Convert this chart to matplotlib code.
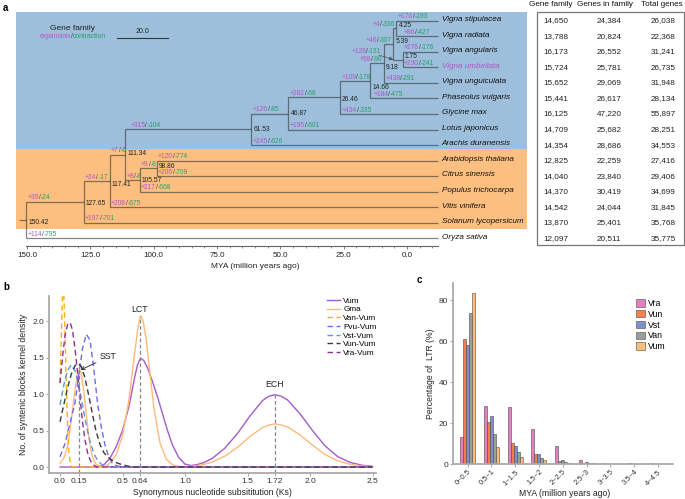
import numpy as np
import matplotlib
matplotlib.use('Agg')
import matplotlib.pyplot as plt
import matplotlib.transforms as mtransforms
from matplotlib.patches import Rectangle
from matplotlib.offsetbox import TextArea, HPacker, AnnotationBbox

plt.rcParams['font.family'] = ['Liberation Sans', 'DejaVu Sans']

# ---------------- panel a : tree + table ----------------
tips = ['Vigna stipulacea', 'Vigna radiata', 'Vigna angularis', 'Vigna umbellata',
        'Vigna unguiculata', 'Phaseolus vulgaris', 'Glycine max', 'Lotus japonicus',
        'Arachis duranensis', 'Arabidopsis thaliana', 'Citrus sinensis',
        'Populus trichocarpa', 'Vitis vinifera', 'Solanum lycopersicum', 'Oryza sativa']

node_age = {'n425': 4.25, 'n175': 1.75, 'n539': 5.39, 'n918': 9.18, 'n1466': 14.66,
            'n2646': 26.46, 'n4687': 46.87, 'n6153': 61.53, 'n9886': 98.86,
            'n10557': 105.57, 'n11134': 111.34, 'n11741': 117.41, 'n12765': 127.65,
            'n15042': 150.42}

children = {
    'n425': ['Vigna stipulacea', 'Vigna radiata'],
    'n175': ['Vigna angularis', 'Vigna umbellata'],
    'n539': ['n425', 'n175'],
    'n918': ['n539', 'Vigna unguiculata'],
    'n1466': ['n918', 'Phaseolus vulgaris'],
    'n2646': ['n1466', 'Glycine max'],
    'n4687': ['n2646', 'Lotus japonicus'],
    'n6153': ['n4687', 'Arachis duranensis'],
    'n9886': ['Arabidopsis thaliana', 'Citrus sinensis'],
    'n10557': ['n9886', 'Populus trichocarpa'],
    'n11134': ['n6153', 'n10557'],
    'n11741': ['n11134', 'Vitis vinifera'],
    'n12765': ['n11741', 'Solanum lycopersicum'],
    'n15042': ['n12765', 'Oryza sativa'],
}

# expansion / contraction on the branch leading to each node
gain_loss = {
    'Vigna stipulacea': (176, 193), 'Vigna radiata': (86, 427), 'n425': (4, 336),
    'n539': (46, 307), 'n175': (128, 131), 'Vigna angularis': (278, 176),
    'Vigna umbellata': (230, 241), 'n918': (58, 90), 'Vigna unguiculata': (438, 291),
    'n1466': (109, 178), 'Phaseolus vulgaris': (184, 475), 'Glycine max': (434, 335),
    'n2646': (282, 68), 'Lotus japonicus': (195, 601), 'n4687': (126, 85),
    'Arachis duranensis': (245, 626), 'n6153': (315, 104), 'n11134': (7, 6),
    'Arabidopsis thaliana': (120, 774), 'n9886': (9, 8), 'Citrus sinensis': (206, 709),
    'n10557': (8, 8), 'Populus trichocarpa': (217, 668), 'n11741': (24, 17),
    'Vitis vinifera': (208, 675), 'n12765': (39, 24), 'Solanum lycopersicum': (197, 701),
    'Oryza sativa': (114, 795),
}

gene_family = [14650, 13788, 16173, 15724, 15652, 15441, 16125, 14709, 14354,
               12825, 14040, 14370, 14542, 13870, 12097]
genes_in_family = [24384, 20824, 26552, 25781, 29069, 26617, 47220, 25682, 28686,
                   22259, 23840, 30419, 24044, 25401, 20511]
total_genes = [26038, 22368, 31241, 26735, 31948, 28134, 55897, 28251, 34553,
               27416, 29406, 34699, 31845, 35768, 35775]

# ---------------- panel b : Ks densities ----------------
ks_vum = [0.0, 0.30, 0.35, 0.40, 0.45, 0.50, 0.55, 0.60, 0.62, 0.645, 0.67, 0.70, 0.74,
          0.78, 0.82, 0.86, 0.90, 0.95, 1.00, 1.05, 1.10, 1.15, 1.22, 1.32, 1.42, 1.52,
          1.62, 1.67, 1.72, 1.77, 1.82, 1.92, 2.02, 2.12, 2.22, 2.32, 2.42, 2.50]
den_vum = [0.0, 0.0, 0.03, 0.12, 0.28, 0.50, 0.82, 1.25, 1.40, 1.49, 1.46, 1.36, 1.17,
           0.96, 0.73, 0.50, 0.30, 0.13, 0.04, 0.02, 0.035, 0.06, 0.12, 0.26, 0.46, 0.70,
           0.91, 0.97, 0.99, 0.97, 0.92, 0.73, 0.50, 0.29, 0.145, 0.063, 0.023, 0.01]
ks_gma = [0.0, 0.03, 0.06, 0.08, 0.10, 0.12, 0.14, 0.155, 0.17, 0.19, 0.21, 0.23, 0.25,
          0.27, 0.29, 0.32, 0.36, 0.40, 0.45, 0.50, 0.55, 0.60, 0.625, 0.645, 0.665, 0.69,
          0.72, 0.75, 0.80, 0.85, 0.90, 0.95, 1.00, 1.05, 1.10, 1.15, 1.22, 1.32, 1.42,
          1.52, 1.62, 1.67, 1.72, 1.77, 1.82, 1.92, 2.02, 2.12, 2.22, 2.32, 2.42, 2.50]
den_gma = [0.05, 0.12, 0.28, 0.50, 0.78, 1.05, 1.28, 1.34, 1.28, 1.05, 0.72, 0.42, 0.21,
           0.09, 0.035, 0.01, 0.01, 0.05, 0.17, 0.43, 0.90, 1.60, 1.92, 2.07, 2.00, 1.75,
           1.28, 0.82, 0.33, 0.11, 0.03, 0.01, 0.005, 0.01, 0.02, 0.035, 0.07, 0.15, 0.27,
           0.42, 0.54, 0.575, 0.59, 0.575, 0.55, 0.44, 0.30, 0.17, 0.086, 0.037, 0.014, 0.006]
ks_van = [0.0, 0.01, 0.02, 0.025, 0.03, 0.04, 0.05, 0.06, 0.07, 0.08, 0.09, 0.10, 0.12, 2.50]
den_van = [1.15, 1.75, 2.35, 2.50, 2.42, 1.85, 1.15, 0.58, 0.24, 0.08, 0.02, 0.005, 0.0, 0.0]
ks_pvu = [0.0, 0.04, 0.08, 0.12, 0.15, 0.18, 0.21, 0.24, 0.27, 0.30, 0.33, 0.36, 0.39,
          0.42, 0.45, 0.50, 2.50]
den_pvu = [0.14, 0.32, 0.60, 0.88, 1.26, 1.62, 1.82, 1.74, 1.35, 0.88, 0.55, 0.30, 0.14,
           0.05, 0.02, 0.0, 0.0]
ks_vst = [0.0, 0.03, 0.06, 0.09, 0.12, 0.15, 0.18, 0.21, 0.24, 0.27, 0.30, 0.33, 0.36,
          0.40, 0.45, 2.50]
den_vst = [0.85, 1.12, 1.32, 1.40, 1.32, 1.12, 0.85, 0.57, 0.35, 0.19, 0.09, 0.04, 0.016,
           0.003, 0.0, 0.0]
ks_vun = [0.0, 0.03, 0.06, 0.09, 0.12, 0.145, 0.17, 0.20, 0.23, 0.26, 0.29, 0.32, 0.35,
          0.38, 0.41, 0.45, 0.50, 0.55, 0.60, 2.50]
den_vun = [0.62, 0.85, 1.08, 1.27, 1.39, 1.42, 1.38, 1.22, 0.98, 0.72, 0.48, 0.31, 0.20,
           0.14, 0.10, 0.06, 0.03, 0.01, 0.0, 0.0]
ks_vra = [0.0, 0.02, 0.04, 0.06, 0.08, 0.10, 0.12, 0.14, 0.16, 0.18, 0.20, 0.22, 0.24,
          0.26, 0.28, 0.30, 2.50]
den_vra = [1.15, 1.50, 1.80, 1.95, 1.98, 1.88, 1.62, 1.30, 0.95, 0.62, 0.37, 0.20, 0.10,
           0.04, 0.015, 0.0, 0.0]

peak_ks = [0.15, 0.64, 1.72]
peak_top = [1.37, 2.07, 0.99]
ks_ticks = [0.0, 0.15, 0.5, 0.64, 1.0, 1.5, 1.72, 2.0, 2.5]

# ---------------- panel c : LTR insertion time ----------------
ltr_bins = ['0~0.5', '0.5~1', '1~1.5', '1.5~2', '2~2.5', '2.5~3', '3~3.5', '3.5~4', '4~4.5']
ltr_species = ['Vra', 'Vun', 'Vst', 'Van', 'Vum']
ltr_vra = [13.5, 28.6, 28.0, 17.1, 8.9, 2.3, 0.8, 0.4, 0.6]
ltr_vun = [61.1, 20.5, 10.4, 5.0, 1.6, 0.8, 0.2, 0.4, 0.3]
ltr_vst = [58.2, 23.7, 9.1, 5.0, 2.1, 1.3, 0.2, 0.3, 0.2]
ltr_van = [73.7, 14.6, 6.0, 3.1, 1.3, 0.7, 0.2, 0.3, 0.2]
ltr_vum = [83.5, 8.3, 3.6, 2.0, 0.8, 0.5, 0.1, 0.2, 0.1]

EXP_C = '#b254c8'
CON_C = '#27a066'
SLASH_C = '#444444'
PX = 0.72  # points per pixel at dpi 100

fig = plt.figure(figsize=(6.85, 4.99), dpi=100)


def gl_box(a, b, size, pre=('+', '-')):
    kw = dict(size=size)
    return HPacker(children=[
        TextArea(f'{pre[0]}{a}', textprops=dict(color=EXP_C, **kw)),
        TextArea('/', textprops=dict(color=SLASH_C, **kw)),
        TextArea(f'{pre[1]}{b}', textprops=dict(color=CON_C, **kw))],
        align='baseline', pad=0, sep=0)


# ===== panel a =====
ax = fig.add_axes([16 / 685, 1 - 246 / 499, 511 / 685, 234 / 499])
TIP_X = -12.3
ax.set_xlim(154.34, -47.4)
ax.set_ylim(14.49, -0.56)
band = mtransforms.blended_transform_factory(ax.transAxes, ax.transData)
ax.add_patch(Rectangle((0, 8.28), 1, 13.39 - 8.28, transform=band,
                       facecolor='#fdbf80', edgecolor='none', zorder=0))
ax.add_patch(Rectangle((0, -0.56), 1, 8.28 + 0.56, transform=band,
                       facecolor='#9dbfdc', edgecolor='none', zorder=0))

tip_y = {n: i for i, n in enumerate(tips)}
node_y = {}


def get_y(n):
    if n in tip_y:
        return tip_y[n]
    if n not in node_y:
        node_y[n] = np.mean([get_y(c) for c in children[n]])
    return node_y[n]


def get_x(n):
    return node_age.get(n, TIP_X)


parent = {c: p for p, cs in children.items() for c in cs}
lkw = dict(color='#333333', alpha=0.6, lw=0.9, solid_capstyle='butt')
for p, cs in children.items():
    ys = [get_y(c) for c in cs]
    ax.plot([node_age[p]] * 2, [min(ys), max(ys)], **lkw)
    for c in cs:
        ax.plot([node_age[p], get_x(c)], [get_y(c)] * 2, **lkw)
ax.plot([node_age['n15042'] + 2.6, node_age['n15042']], [get_y('n15042')] * 2, **lkw)

# species names
for n in tips:
    ax.text(TIP_X - 1.5, tip_y[n] - 0.08, n, style='italic', fontsize=5.9, va='center', ha='left',
            color=EXP_C if n == 'Vigna umbellata' else '#111111')

# node ages
node_dy = {'n1466': 6.5, 'n918': 4, 'n11741': 4, 'n175': -3, 'n2646': 2.5, 'n12765': 2,
           'n15042': 2, 'n9886': -2, 'n11134': -1.5, 'n539': -2.5, 'n425': -2.5}
for n, age in node_age.items():
    ax.text(age - 0.9, get_y(n) + node_dy.get(n, 0) / 15.55, f'{age:.2f}', fontsize=4.8,
            va='center', ha='left', color='#222222')

# branch gains / losses
right_mode = {'n425', 'n539', 'n918'}
extra_dx = {'Vigna radiata': 6, 'n6153': 4, 'Phaseolus vulgaris': 2}
for n, (g, l) in gain_loss.items():
    box = gl_box(g, l, 4.8)
    y = get_y(n)
    if n == 'n175':
        ab = AnnotationBbox(box, (node_age['n539'], y), xybox=(-12 * PX, 5 * PX),
                            xycoords='data', boxcoords='offset points', box_alignment=(1, 0),
                            frameon=False, pad=0, annotation_clip=False,
                            arrowprops=dict(arrowstyle='-|>', color='#555555', lw=0.5,
                                            mutation_scale=4, shrinkA=0, shrinkB=0))
    elif n in right_mode:
        ab = AnnotationBbox(box, (get_x(n), y), xybox=(-1 * PX, 0.3), xycoords='data',
                            boxcoords='offset points', box_alignment=(1, 0),
                            frameon=False, pad=0, annotation_clip=False)
    else:
        ab = AnnotationBbox(box, (node_age[parent[n]], y),
                            xybox=((1.5 + extra_dx.get(n, 0)) * PX, 0.3), xycoords='data',
                            boxcoords='offset points', box_alignment=(0, 0),
                            frameon=False, pad=0, annotation_clip=False)
    ax.add_artist(ab)

# scale bar and legend of gene family
ax.plot([114.5, 94.5], [1.11, 1.11], color='#333333', lw=0.8)
ax.text(104.5, 0.95, '20.0', fontsize=5, ha='center', va='bottom', color='#222222')
fig.text(73 / 685, 1 - 29 / 499, 'Gene family', fontsize=6, ha='center', va='center', color='#222222')
fig.add_artist(AnnotationBbox(gl_box('expansion', 'contraction', 4.9, pre=('', '')),
                              (73 / 685, 1 - 37 / 499), xycoords='figure fraction',
                              box_alignment=(0.5, 0.5), frameon=False, pad=0))

for s in ['top', 'right', 'left']:
    ax.spines[s].set_visible(False)
ax.spines['bottom'].set_bounds(150.4, TIP_X)
ax.spines['bottom'].set_color('#666666')
ax.spines['bottom'].set_linewidth(0.8)
ax.set_yticks([])
ax.set_xticks([150, 125, 100, 75, 50, 25, 0])
ax.set_xticklabels([f'{v:.1f}' for v in [150, 125, 100, 75, 50, 25, 0]])
ax.set_xticks(np.arange(150, -15, -5), minor=True)
ax.tick_params(axis='x', which='major', length=2.5, width=0.6, color='#666666', labelsize=5.8,
               pad=1.5, labelcolor='#222222')
ax.tick_params(axis='x', which='minor', length=1.5, width=0.5, color='#666666')
fig.text(255 / 685, 1 - 266 / 499, 'MYA (million years ago)', fontsize=6, ha='center', va='center',
         color='#222222')

# table
tbl = mtransforms.blended_transform_factory(fig.transFigure, ax.transData)
fig.add_artist(Rectangle((537 / 685, 1 - 245 / 499), 147 / 685, 233 / 499, transform=fig.transFigure,
                         facecolor='none', edgecolor='#777777', lw=0.9))
for col, vals in zip([556, 609, 663], [gene_family, genes_in_family, total_genes]):
    for i, v in enumerate(vals):
        ax.text(col / 685, i, f'{v:,}', transform=tbl, fontsize=5.9, ha='center', va='center',
                color='#222222', clip_on=False)
for col, h in zip([551, 605, 662], ['Gene family', 'Genes in family', 'Total genes']):
    fig.text(col / 685, 1 - 5 / 499, h, fontsize=5.9, ha='center', va='center', color='#111111')

# ===== panel b =====
bx = fig.add_axes([49 / 685, 26 / 499, 327 / 685, 177.5 / 499])
bx.set_xlim(-0.088, 2.528)
bx.set_ylim(-0.082, 2.35)
dash = (0, (4, 2.5))
series = [
    (ks_vum, den_vum, 'Vum', '#a65bc8', '-'),
    (ks_gma, den_gma, 'Gma', '#ffba7a', '-'),
    (ks_van, den_van, 'Van-Vum', '#ffae1a', dash),
    (ks_pvu, den_pvu, 'Pvu-Vum', '#6c6cec', dash),
    (ks_vst, den_vst, 'Vst-Vum', '#5b9bd5', dash),
    (ks_vun, den_vun, 'Vun-Vum', '#3a3a3a', dash),
    (ks_vra, den_vra, 'Vra-Vum', '#8e2e92', dash),
]
for xs, ys, lab, c, ls in series:
    bx.plot(xs, ys, color=c, ls=ls, lw=1.0, label=lab)
bx.vlines(peak_ks, -0.082, peak_top, colors='#888888', linestyles=(0, (3, 2)), lw=0.9)
bx.text(0.64, 2.16, 'LCT', fontsize=6.3, ha='center', va='center', color='#222222')
bx.text(1.72, 1.13, 'ECH', fontsize=6.3, ha='center', va='center', color='#222222')
bx.annotate('SST', xy=(0.165, 1.33), xytext=(0.32, 1.51), fontsize=6.3, ha='left', va='center',
            color='#222222', arrowprops=dict(arrowstyle='->', lw=0.6, color='#222222',
                                             shrinkA=1, shrinkB=0))
for s in ['top', 'right']:
    bx.spines[s].set_visible(False)
for s in ['left', 'bottom']:
    bx.spines[s].set_color('#aaaaaa')
    bx.spines[s].set_linewidth(1.3)
bx.set_xticks(ks_ticks)
bx.set_xticklabels([str(v) for v in ks_ticks])
bx.set_yticks([0.0, 0.5, 1.0, 1.5, 2.0])
bx.set_yticklabels(['0.0', '0.5', '1.0', '1.5', '2.0'])
bx.tick_params(length=2, width=0.8, color='#aaaaaa', labelsize=6, labelcolor='#333333', pad=1.5)
bx.set_xlabel('Synonymous nucleotide subsititution (Ks)', fontsize=6.2, color='#222222', labelpad=2)
bx.set_ylabel('No. of syntenic blocks kernel density', fontsize=6.2, color='#222222', labelpad=3)
bx.legend(loc='upper left', bbox_to_anchor=(327 / 685, 1 - 297 / 499),
          bbox_transform=fig.transFigure, frameon=False, fontsize=5.9, handlelength=1.6,
          handletextpad=0.4, labelspacing=0.12, borderpad=0, borderaxespad=0)

# ===== panel c =====
cx = fig.add_axes([453 / 685, 34.7 / 499, 220 / 685, 181 / 499])
cx.set_xlim(-0.61, 8.63)
cx.set_ylim(0, 88.3)
w = 0.126
colors_c = ['#e47fc3', '#f57f4c', '#7b90cf', '#9e9e9e', '#ffbb78']
xpos = np.arange(len(ltr_bins))
for k, (vals, lab, c) in enumerate(zip([ltr_vra, ltr_vun, ltr_vst, ltr_van, ltr_vum],
                                       ltr_species, colors_c)):
    cx.bar(xpos + (k - 2) * w, vals, width=w, color=c, edgecolor='#4a4a4a', lw=0.4, label=lab)
for s in ['top', 'right']:
    cx.spines[s].set_visible(False)
for s in ['left', 'bottom']:
    cx.spines[s].set_color('#aaaaaa')
    cx.spines[s].set_linewidth(1.3)
cx.set_xticks(xpos)
cx.set_xticklabels(ltr_bins, rotation=45, ha='right', rotation_mode='anchor')
cx.set_yticks([0, 20, 40, 60, 80])
cx.tick_params(length=2, width=0.8, color='#aaaaaa', labelsize=6, labelcolor='#333333', pad=1.5)
cx.tick_params(axis='x', labelsize=5.4, pad=1)
cx.set_ylabel('Percentage of  LTR (%)', fontsize=6.2, color='#222222', labelpad=3)
fig.text(565 / 685, 1 - 493 / 499, 'MYA (million years ago)', fontsize=6.2, ha='center',
         va='center', color='#222222')
cx.legend(loc='upper left', bbox_to_anchor=(636 / 685, 1 - 299 / 499), bbox_transform=fig.transFigure,
          frameon=False, fontsize=6.3, handlelength=1.0, handleheight=0.9, handletextpad=0.4,
          labelspacing=0.2, borderpad=0, borderaxespad=0)

fig.text(3 / 685, 1 - 8 / 499, 'a', fontsize=7, fontweight='bold', va='center')
fig.text(3 / 685, 1 - 287 / 499, 'b', fontsize=7, fontweight='bold', va='center')
fig.text(417 / 685, 1 - 280 / 499, 'c', fontsize=7, fontweight='bold', va='center')

fig.savefig('out.png', dpi=100)
